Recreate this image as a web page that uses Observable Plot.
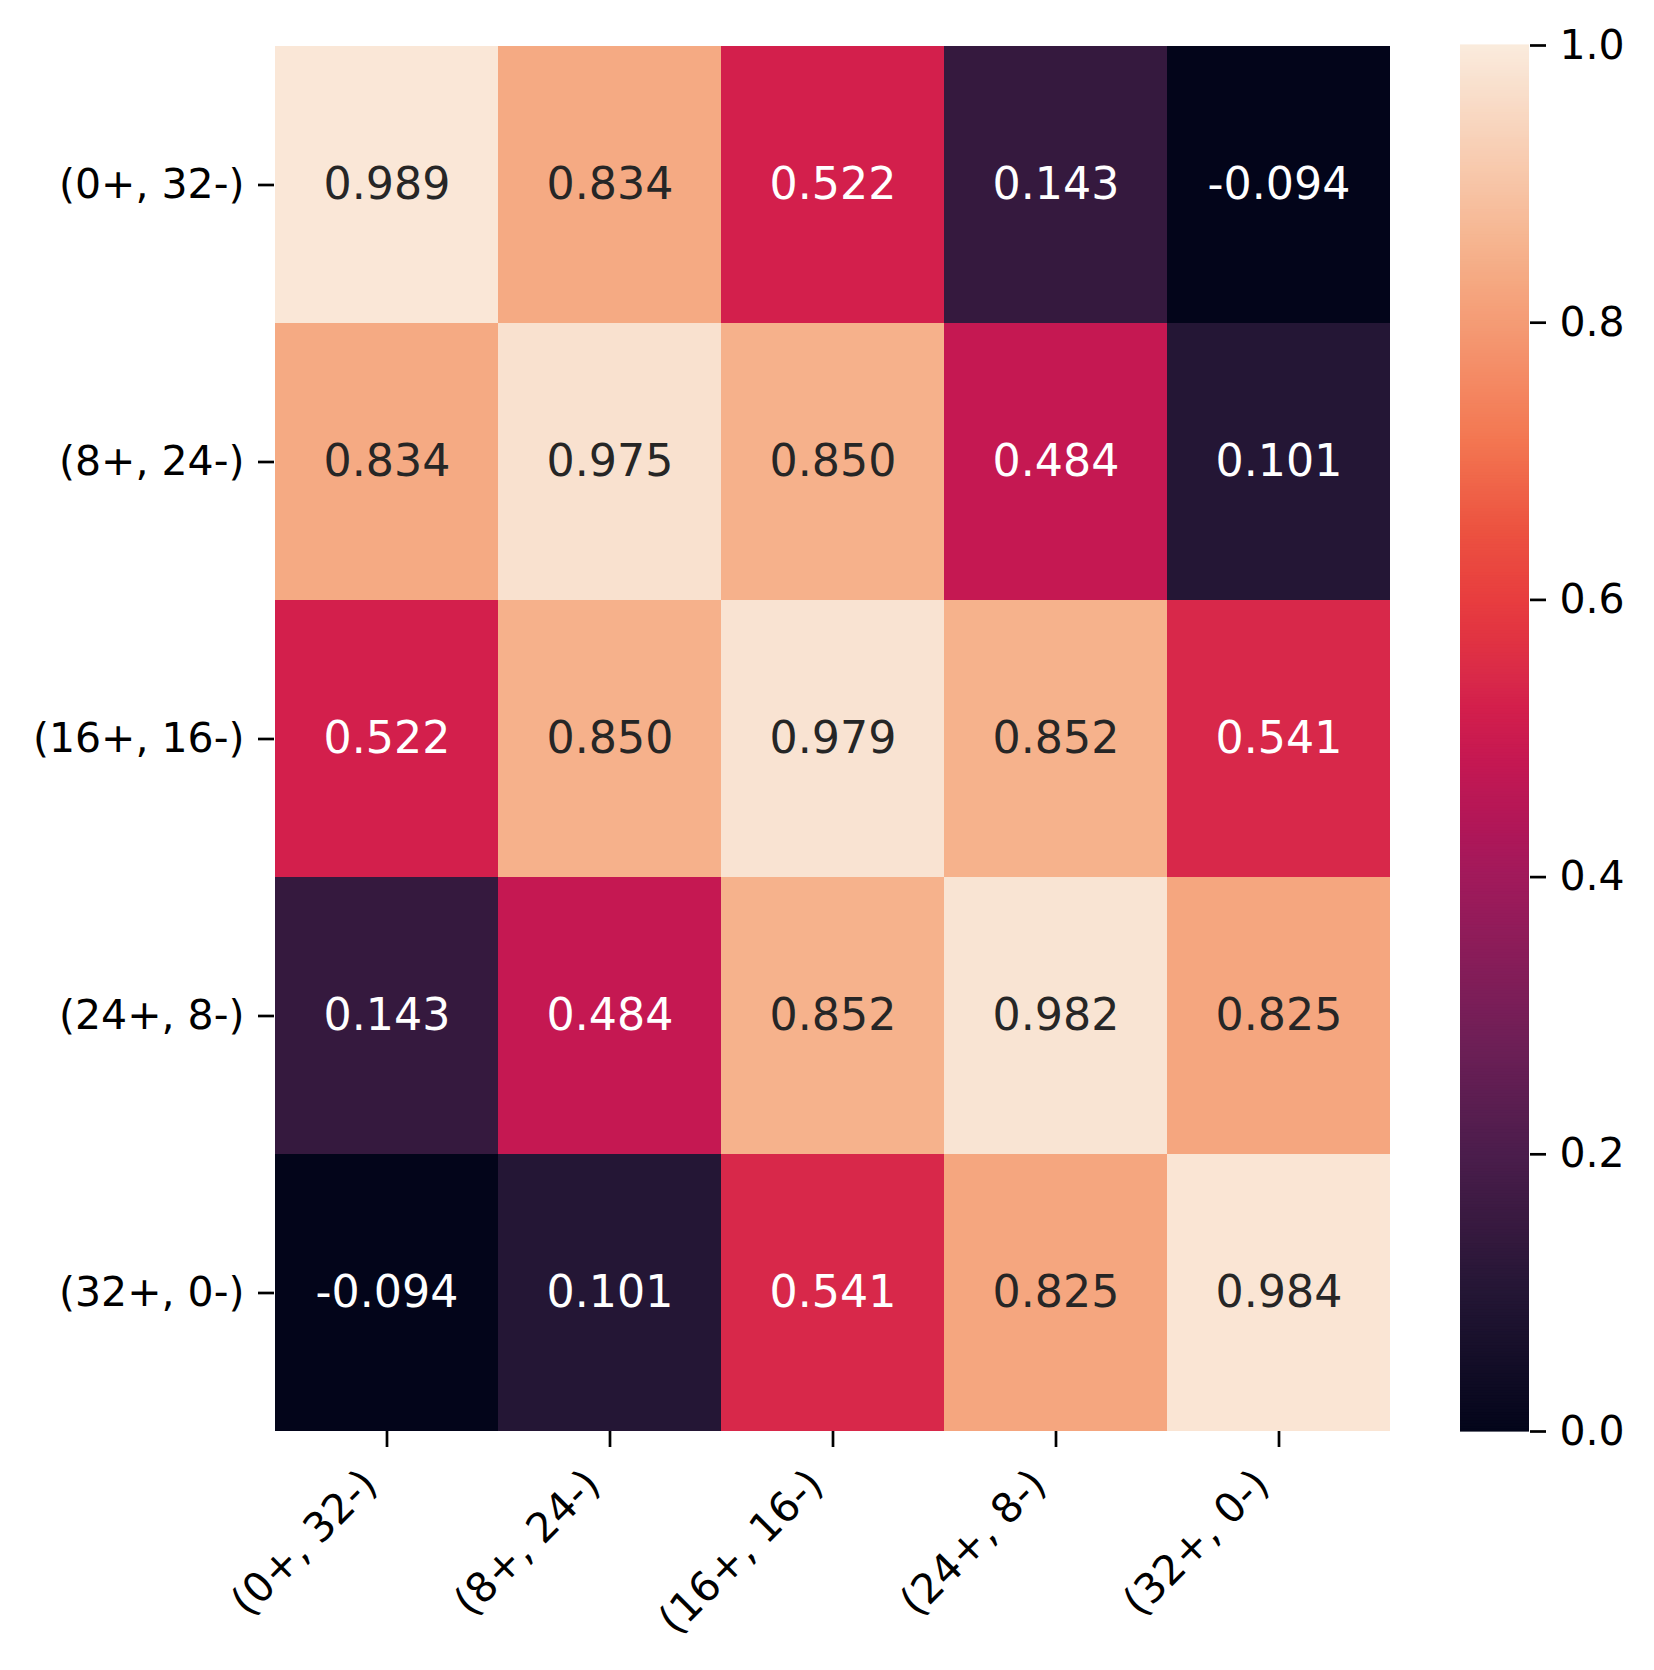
<!DOCTYPE html>
<html><head><meta charset="utf-8">
<script src="https://cdn.jsdelivr.net/npm/d3@7"></script>
<script src="https://cdn.jsdelivr.net/npm/@observablehq/plot@0.6"></script>
<style>
body{margin:0;background:#fff;}
#wrap{position:relative;width:1654px;height:1670px;background:#fff;}
#wrap svg{position:absolute;top:0;}
</style></head><body><div id="wrap"></div>
<script>
// ---- data ----
const labels = ["(0+, 32-)", "(8+, 24-)", "(16+, 16-)", "(24+, 8-)", "(32+, 0-)"];
const row0 = [0.989, 0.834, 0.522, 0.143, -0.094];
const row1 = [0.834, 0.975, 0.850, 0.484, 0.101];
const row2 = [0.522, 0.850, 0.979, 0.852, 0.541];
const row3 = [0.143, 0.484, 0.852, 0.982, 0.825];
const row4 = [-0.094, 0.101, 0.541, 0.825, 0.984];
const colorbarTicks = [0, 0.2, 0.4, 0.6, 0.8, 1.0];
// seaborn "rocket" colormap stops
const rocketStops = [0, 0.101, 1/7, 0.2, 2/7, 0.4, 3/7, 0.484, 0.522, 0.541, 4/7, 0.6, 0.65, 5/7, 0.834, 6/7, 1];
const rocketColors = ["#03051a", "#241635", "#35193e", "#4b1d4c", "#701f57", "#a11a5b", "#ad1759", "#c51852", "#d31f4c", "#d8284a", "#e13342", "#e83d3f", "#ec5240", "#f37651", "#f5aa83", "#f6b48f", "#faebdd"];

const rows = [row0, row1, row2, row3, row4];
const cells = rows.flatMap((r, i) => r.map((v, j) => ({row: labels[i], col: labels[j], value: v})));

const colorFn = d3.scaleLinear().domain(rocketStops).range(rocketColors).interpolate(d3.interpolateRgb).clamp(true);
function lum(c) {
  const r = d3.rgb(c);
  const f = x => { x /= 255; return x <= 0.03928 ? x / 12.92 : Math.pow((x + 0.055) / 1.055, 2.4); };
  return 0.2126 * f(r.r) + 0.7152 * f(r.g) + 0.0722 * f(r.b);
}
const textColor = v => lum(colorFn(v)) > 0.408 ? "#262626" : "#ffffff";

const colorOpts = {type: "linear", domain: rocketStops, range: rocketColors, interpolate: "rgb", clamp: true};
const FONT = "DejaVu Sans";

const main = Plot.plot({
  width: 1654, height: 1670,
  marginLeft: 274, marginRight: 264, marginTop: 45, marginBottom: 239,
  style: {fontFamily: FONT, background: "transparent", color: "black"},
  x: {domain: labels, padding: 0, axis: null},
  y: {domain: labels, padding: 0, axis: null},
  color: colorOpts,
  marks: [
    Plot.cell(cells, {x: "col", y: "row", fill: "value", inset: 0}),
    Plot.text(cells, {x: "col", y: "row", text: d => d.value.toFixed(3), fill: d => textColor(d.value), fontSize: 44.3}),
    Plot.axisY({tickSize: 16, tickPadding: 14, fontSize: 41, label: null, strokeWidth: 2.7}),
    Plot.axisX({tickSize: 16, tickFormat: () => "", label: null, strokeWidth: 2.7}),
    Plot.text(labels, {x: d => d, frameAnchor: "bottom", dy: 46, dx: -17, rotate: -45, textAnchor: "end", lineAnchor: "middle", fontSize: 41, fill: "black"})
  ]
});

// colorbar gradient slices
const step = 0.002;
const slices = d3.range(0, 1, step);
const bar = Plot.plot({
  width: 194, height: 1670,
  marginLeft: 0, marginRight: 125, marginTop: 45, marginBottom: 239,
  style: {fontFamily: FONT, background: "transparent", color: "black"},
  x: {domain: [0, 1], axis: null},
  y: {domain: [0, 1], axis: null},
  color: colorOpts,
  marks: [
    Plot.rect(slices, {x1: 0, x2: 1, y1: d => d, y2: d => Math.min(1, d + step), fill: d => d + step / 2, insetTop: -0.6, insetBottom: -0.6}),
    Plot.axisY({anchor: "right", ticks: colorbarTicks, tickFormat: d => d.toFixed(1), tickSize: 16, tickPadding: 14, fontSize: 41, label: null, strokeWidth: 2.7})
  ]
});

const wrap = document.getElementById("wrap");
main.style.left = "0px";
bar.style.left = "1460px";
wrap.appendChild(main);
wrap.appendChild(bar);
</script>
</body></html>
